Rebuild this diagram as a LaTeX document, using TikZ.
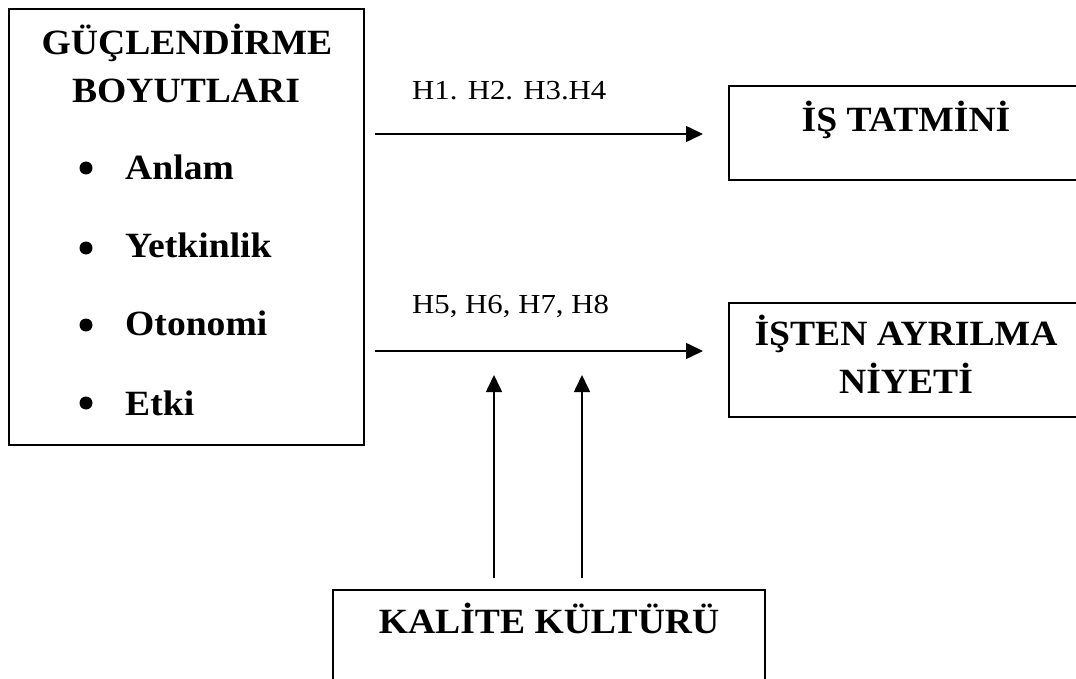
\documentclass[tikz,border=0pt]{standalone}
\usepackage{fontspec}
\setmainfont{Liberation Serif}
\newfontfamily\titlefont[FakeStretch=1.06]{Liberation Serif}
\newfontfamily\lblfont[FakeStretch=1.12]{Liberation Serif}
\usetikzlibrary{arrows.meta}
\begin{document}
\begin{tikzpicture}[x=1pt,y=-1pt,
  boxst/.style={draw=black,line width=1.9pt,inner sep=0pt,rectangle},
  titletxt/.style={font=\titlefont\bfseries\fontsize{35.5}{48}\selectfont,inner sep=0pt},
  lbl/.style={font=\lblfont\fontsize{27.5}{30}\selectfont,inner sep=0pt,anchor=base west},
  bul/.style={circle,fill=black,minimum size=13pt,inner sep=0pt},
  arr/.style={line width=1.6pt,-{Triangle[length=17pt,width=16pt]}}]
\clip (0,0) rectangle (1076,679);
\fill[white] (0,0) rectangle (1076,679);
% boxes
\node[boxst,minimum width=355pt,minimum height=436pt] (L) at (186.5,227) {};
\node[boxst,minimum width=354pt,minimum height=94pt] (R1) at (906,133) {};
\node[boxst,minimum width=354pt,minimum height=114pt] (R2) at (906,360) {};
\node[boxst,minimum width=432pt,minimum height=100pt] (K) at (549,640) {};
% left box text
\node[titletxt,anchor=base] (t1) at (187,55) {GÜÇLENDİRME};
\node[titletxt,anchor=base] (t2) at (186,103) {BOYUTLARI};
\node[bul] (b1) at (86,168) {};
\node[bul] (b2) at (86,248) {};
\node[bul] (b3) at (86,325) {};
\node[bul] (b4) at (86,403) {};
\node[titletxt,anchor=base west] (i1) at (125,180) {Anlam};
\node[titletxt,anchor=base west] (i2) at (125,258) {Yetkinlik};
\node[titletxt,anchor=base west] (i3) at (125,335) {Otonomi};
\node[titletxt,anchor=base west] (i4) at (125,415) {Etki};
% right boxes text
\node[titletxt,anchor=base] (r1) at (906,132) {İŞ TATMİNİ};
\node[titletxt,anchor=base] (r2a) at (906,345) {İŞTEN AYRILMA};
\node[titletxt,anchor=base] (r2b) at (906,393) {NİYETİ};
\node[titletxt,anchor=base] (k1) at (549,633) {KALİTE KÜLTÜRÜ};
% labels
\node[lbl] (h1) at (412,100) {H1. H2. H3.H4};
\node[lbl] (h2) at (412,313) {H5, H6, H7, H8};
% connector end points
\coordinate (s1) at (375,134);
\coordinate (e1) at (703,134);
\coordinate (s2) at (375,351);
\coordinate (e2) at (703,351);
\coordinate (u1) at (494,578);
\coordinate (v1) at (494,375);
\coordinate (u2) at (582,578);
\coordinate (v2) at (582,375);
\draw[arr] (s1) -- (e1);
\draw[arr] (s2) -- (e2);
\draw[arr] (u1) -- (v1);
\draw[arr] (u2) -- (v2);
\end{tikzpicture}
\end{document}
